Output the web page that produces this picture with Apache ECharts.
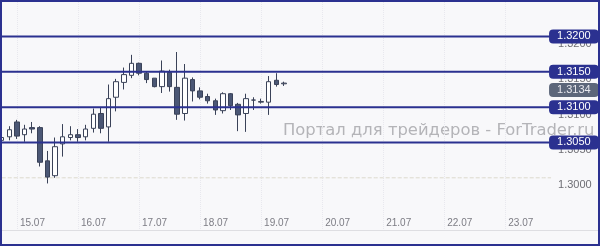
<!DOCTYPE html>
<html><head><meta charset="utf-8">
<script src="https://cdn.jsdelivr.net/npm/echarts@6/dist/echarts.min.js"></script>
<style>
html,body{margin:0;padding:0;background:#f8f8fa;}
#c{position:absolute;left:0;top:0;width:600px;height:246px;}
#b{position:absolute;left:0;top:0;width:600px;height:246px;box-sizing:border-box;border:2px solid #2b3190;pointer-events:none;}
</style>
</head><body><div id="c"></div><div id="b"></div>
<script>
// time slots (3h bars)
const days = ['14.07','15.07','16.07','17.07','18.07','19.07','20.07','21.07','22.07','23.07'];
const hours = ['00:00','03:00','06:00','09:00','12:00','15:00','18:00','21:00'];
const firstSlot = 6;      // 14.07 18:00
const slotCount = 73;

// candles: open, close, low, high
const opens  = [1.3053,1.3058,1.3079,1.3061,1.3071,1.3071,1.3024,1.3003,1.3048,1.3057,1.3061,1.3058,1.3070,1.3091,1.3072,1.3114,1.3135,1.3145,1.3162,1.3148,1.3141,1.3129,1.3149,1.3128,1.3091,1.3139,1.3123,1.3115,1.3109,1.3095,1.3119,1.3104,1.3091,1.3110,1.3107,1.3107,1.3138,1.3133];
const closes = [1.3057,1.3068,1.3059,1.3069,1.3069,1.3022,1.3001,1.3044,1.3058,1.3061,1.3057,1.3069,1.3090,1.3070,1.3112,1.3136,1.3146,1.3162,1.3148,1.3139,1.3129,1.3151,1.3129,1.3090,1.3141,1.3123,1.3114,1.3109,1.3096,1.3119,1.3102,1.3089,1.3112,1.3110,1.3108,1.3136,1.3132,1.3134];
const lows   = [1.3050,1.3053,1.3055,1.3051,1.3063,1.3016,1.2992,1.3000,1.3030,1.3053,1.3051,1.3053,1.3064,1.3063,1.3051,1.3094,1.3125,1.3141,1.3145,1.3134,1.3128,1.3120,1.3122,1.3082,1.3081,1.3108,1.3111,1.3105,1.3089,1.3091,1.3096,1.3066,1.3065,1.3096,1.3105,1.3089,1.3129,1.3130];
const highs  = [1.3060,1.3073,1.3082,1.3075,1.3079,1.3073,1.3038,1.3057,1.3076,1.3073,1.3069,1.3075,1.3098,1.3099,1.3132,1.3140,1.3156,1.3174,1.3163,1.3150,1.3141,1.3166,1.3153,1.3178,1.3161,1.3142,1.3128,1.3119,1.3112,1.3121,1.3120,1.3106,1.3119,1.3114,1.3112,1.3144,1.3148,1.3136];

// horizontal levels
const levels = [1.3200, 1.3150, 1.3100, 1.3050];
const gridLevel = 1.3000;
const lastPrice = 1.3134;
const priceTicks = [1.3000, 1.3050, 1.3100, 1.3150, 1.3200];
const watermark = 'Портал для трейдеров - ForTrader.ru';

const slots = [];
for (let i = 0; i < slotCount; i++) {
  const k = firstSlot + i;
  slots.push(days[Math.floor(k / 8)] + ' ' + hours[k % 8]);
}
const candles = opens.map((o, i) => [o, closes[i], lows[i], highs[i]]);
const isDayStart = (idx) => ((idx + firstSlot) % 8) === 0;
const flat = (v) => slots.map(() => v);

const BLUE = '#2b3190';
const badge = (bg, fg, off) => ({
  show: true, distance: -2, offset: off || [0, 0],
  formatter: (p) => Number(p.value).toFixed(4),
  backgroundColor: bg, color: fg, borderRadius: 4,
  padding: [1, 8, 1, 8], lineHeight: 12, fontSize: 11,
  fontFamily: '"Liberation Sans", sans-serif'
});
const levelSeries = levels.map(v => ({
  type: 'line', data: flat(v), symbol: 'none', silent: true, z: 3,
  lineStyle: {color: BLUE, width: 2},
  endLabel: badge(BLUE, '#ffffff')
}));

const chart = echarts.init(document.getElementById('c'), null, {renderer: 'canvas'});
chart.setOption({
  animation: false,
  backgroundColor: '#f8f8fa',
  grid: {left: 1.7, right: 48.94, top: 2, bottom: 16, containLabel: false},
  xAxis: {
    type: 'category', data: slots, boundaryGap: false,
    axisLine: {show: false}, axisTick: {show: false},
    axisLabel: {
      inside: true, margin: 2,
      interval: (i) => isDayStart(i),
      formatter: (v) => v.split(' ')[0],
      align: 'left', padding: [0, 0, 0, 3],
      color: '#7c7c84', fontSize: 10, fontFamily: '"Liberation Sans Narrow", "Liberation Sans", sans-serif'
    },
    splitLine: {show: true, interval: (i) => isDayStart(i), lineStyle: {color: '#e8e8ee', type: 'dotted', width: 1}}
  },
  yAxis: {
    type: 'value', position: 'right', min: 1.292613, max: 1.324877, scale: true,
    axisLine: {show: false}, axisTick: {show: false}, splitLine: {show: false},
    axisLabel: {
      customValues: priceTicks,
      formatter: (v) => v.toFixed(4),
      margin: 7, verticalAlign: 'top', padding: [2, 0, 0, 0],
      color: '#6e6e74', fontSize: 11, fontFamily: '"Liberation Sans", sans-serif'
    }
  },
  graphic: [
    {type: 'text', left: 283, top: 123, z: 0, style: {text: watermark, font: '16.4px "DejaVu Sans", sans-serif', fill: '#b4b4b8'}},
    {type: 'line', z: 0, shape: {x1: 2, y1: 230.5, x2: 598, y2: 230.5}, style: {stroke: '#dedee2', lineWidth: 1}}
  ],
  series: [
    {
      type: 'line', data: flat(gridLevel), symbol: 'none', silent: true, z: 1,
      lineStyle: {color: '#dcd9cc', width: 1, type: 'dashed'}
    },
    {
      type: 'candlestick',
      data: candles,
      barWidth: 5, z: 2,
      itemStyle: {color: '#ffffff', color0: '#4b5775', borderColor: '#3a4258', borderColor0: '#3a4258', borderWidth: 1}
    },
    ...levelSeries,
    {
      type: 'line', data: flat(lastPrice), symbol: 'none', silent: true, z: 4,
      lineStyle: {opacity: 0},
      endLabel: badge('#5c667a', '#e8e8ee', [0, 7])
    }
  ]
});
</script>
</body></html>
